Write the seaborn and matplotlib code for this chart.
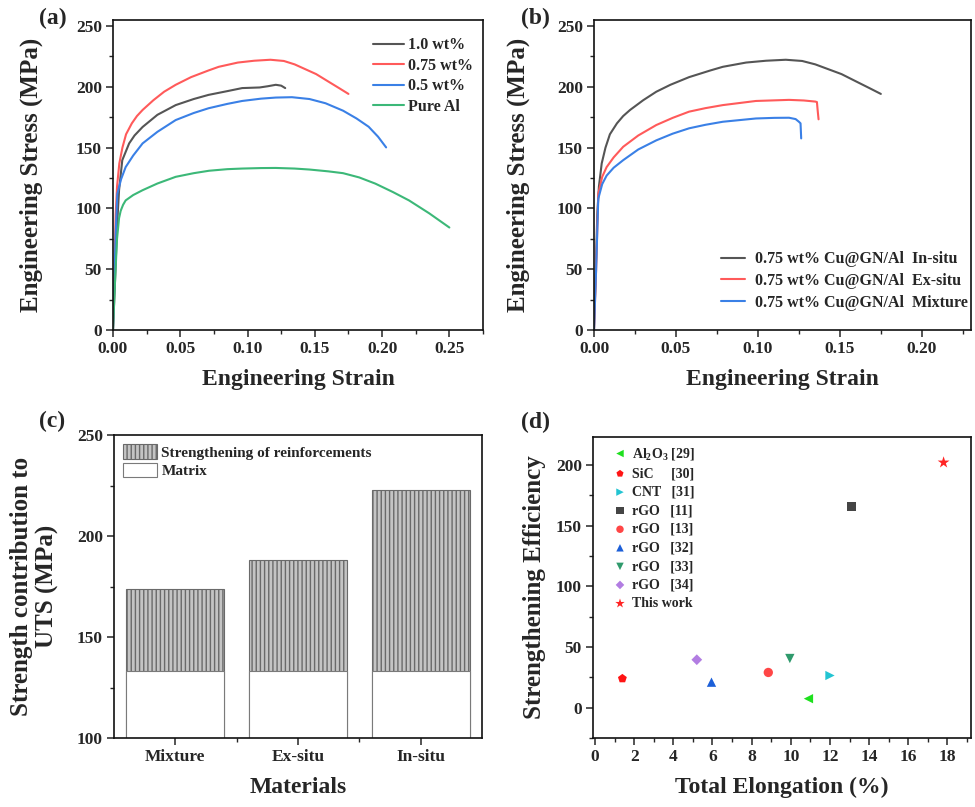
import numpy as np
import pandas as pd
import matplotlib
matplotlib.use("Agg")
import matplotlib.pyplot as plt
import matplotlib.patches as mpatches
from matplotlib.ticker import MultipleLocator
import seaborn as sns

# ---------------- data ----------------
# (a) tensile curves: strain / stress (MPa)
pure_al_strain = [0, 0.0015, 0.003, 0.0045, 0.0057, 0.0075, 0.0094, 0.015, 0.022, 0.033, 0.0466, 0.06, 0.0714,
                  0.085, 0.096, 0.11, 0.121, 0.135, 0.146, 0.16, 0.171, 0.183, 0.195, 0.208, 0.220, 0.235, 0.25]
pure_al_stress = [0, 40, 75, 92, 98, 103, 106.6, 111, 115, 120.5, 126, 129, 131,
                  132.3, 132.8, 133.2, 133.3, 132.8, 132, 130.5, 129, 125.5, 120.4, 113.5, 106.6, 96, 84.3]

wt05_strain = [0, 0.001, 0.002, 0.0032, 0.006, 0.0094, 0.015, 0.022, 0.033, 0.0466, 0.06, 0.071, 0.085, 0.096,
               0.11, 0.121, 0.133, 0.146, 0.158, 0.171, 0.181, 0.19, 0.197, 0.203]
wt05_stress = [0, 40, 80, 112, 124, 134, 143.5, 153.5, 163, 172.7, 178.5, 182.4, 186, 188.4,
               190.3, 191.2, 191.5, 190, 186.5, 180.4, 174, 167.2, 159, 150.2]

wt075_strain = [0, 0.001, 0.002, 0.003, 0.0047, 0.007, 0.0097, 0.014, 0.0178, 0.022, 0.03, 0.038, 0.0466, 0.058,
                0.071, 0.0786, 0.0928, 0.105, 0.117, 0.127, 0.135, 0.143, 0.151, 0.16, 0.168, 0.175]
wt075_stress = [0, 45, 95, 118, 137, 150, 161, 170, 176, 181, 189, 196, 201.7, 208,
                213.5, 216.5, 220, 221.5, 222.3, 221.3, 218.5, 214.5, 210.5, 204.4, 199, 194.2]

wt10_strain = [0, 0.0015, 0.003, 0.0045, 0.0069, 0.012, 0.016, 0.022, 0.033, 0.0466, 0.06, 0.071, 0.085, 0.096,
               0.109, 0.115, 0.121, 0.125, 0.128]
wt10_stress = [0, 40, 85, 115, 139.7, 153.5, 160, 167, 177, 185, 190, 193.4, 196.5, 199,
               199.5, 200.5, 201.7, 201, 199]

# (b) processing routes (In-situ = 0.75 wt% curve above)
exsitu_strain = [0, 0.0013, 0.0026, 0.005, 0.0077, 0.012, 0.0178, 0.027, 0.038, 0.048, 0.058, 0.068, 0.0786,
                 0.0988, 0.119, 0.128, 0.135, 0.136, 0.1365, 0.137]
exsitu_stress = [0, 50, 112, 126, 134, 142, 150.7, 160, 168.6, 174.5, 179.6, 182.5, 185,
                 188.4, 189.3, 188.8, 187.9, 187.5, 180, 173.3]

mixture_strain = [0, 0.0013, 0.0026, 0.005, 0.0077, 0.012, 0.0178, 0.027, 0.038, 0.048, 0.058, 0.068, 0.0786,
                  0.0988, 0.11, 0.119, 0.123, 0.125, 0.126, 0.1262, 0.1264]
mixture_stress = [0, 50, 108, 120, 127, 133.5, 139.7, 148.5, 156, 161.5, 165.9, 168.8, 171.3,
                  174, 174.5, 174.6, 173.5, 171.3, 170, 164, 157.6]

# (c) strength contributions
materials = ["Mixture", "Ex-situ", "In-situ"]
uts_total = [174, 188, 223]
matrix_strength = [133, 133, 133]

# (d) strengthening efficiency vs elongation
ref_labels = ["Al$_2$O$_3$ [29]", "SiC     [30]", "CNT   [31]", "rGO   [11]", "rGO   [13]",
              "rGO   [32]", "rGO   [33]", "rGO   [34]", "This work"]
elongation = [10.9, 1.4, 12.0, 13.1, 8.85, 5.95, 9.95, 5.2, 17.8]
efficiency = [7.4, 24, 26.5, 166, 29, 21, 40.5, 39.5, 202]
ref_markers = ["<", "p", ">", "s", "o", "^", "v", "D", "*"]
ref_colors = ["#1ee01e", "#ff1414", "#22c4d2", "#454545", "#ff4646", "#1c5fd8", "#2f9a6c", "#b27de2", "#ff2424"]
ref_sizes = [45, 45, 45, 40, 45, 45, 45, 30, 80]

# ---------------- style ----------------
sns.set_style("ticks")
plt.rcParams["font.family"] = ["Liberation Serif", "DejaVu Serif"]
plt.rcParams["font.weight"] = "bold"
plt.rcParams["axes.labelweight"] = "bold"
plt.rcParams["mathtext.fontset"] = "custom"
plt.rcParams["mathtext.rm"] = "Liberation Serif:bold"
plt.rcParams["mathtext.it"] = "Liberation Serif:bold"
plt.rcParams["mathtext.bf"] = "Liberation Serif:bold"
plt.rcParams["mathtext.default"] = "rm"
plt.rcParams["axes.linewidth"] = 1.2
plt.rcParams["axes.edgecolor"] = "#111111"
plt.rcParams["hatch.linewidth"] = 1.0
plt.rcParams["hatch.color"] = "#6a6a6a"

W, H = 975, 807
fig = plt.figure(figsize=(W / 100, H / 100), dpi=100)


def add_ax(l, r, t, b):
    return fig.add_axes([l / W, 1 - b / H, (r - l) / W, (b - t) / H])


axa = add_ax(113, 483, 20, 330)
axb = add_ax(594, 971, 20, 330)
axc = add_ax(114, 482, 435, 738)
axd = add_ax(593, 971, 437, 738)

TICK = 12.5
XLAB = 17
YLAB = 18


def style_axis(ax):
    for s in ax.spines.values():
        s.set_visible(True)
        s.set_linewidth(1.2)
    ax.tick_params(axis="both", which="major", direction="out", length=5, width=1.1,
                   labelsize=TICK, top=False, right=False, pad=3)
    ax.tick_params(axis="both", which="minor", direction="out", length=3, width=1.0,
                   top=False, right=False)


# ---- (a) ----
col_gray, col_red, col_blue, col_green = "#555555", "#ff5a5a", "#3a80e6", "#3cb878"
sns.lineplot(x=wt10_strain, y=wt10_stress, sort=False, estimator=None, ax=axa, color=col_gray, lw=1.5, label="1.0 wt%")
sns.lineplot(x=wt075_strain, y=wt075_stress, sort=False, estimator=None, ax=axa, color=col_red, lw=1.5, label="0.75 wt%")
sns.lineplot(x=wt05_strain, y=wt05_stress, sort=False, estimator=None, ax=axa, color=col_blue, lw=1.5, label="0.5 wt%")
sns.lineplot(x=pure_al_strain, y=pure_al_stress, sort=False, estimator=None, ax=axa, color=col_green, lw=1.5, label="Pure Al")
axa.set_xlim(0, 0.275)
axa.set_ylim(0, 255)
axa.xaxis.set_major_locator(MultipleLocator(0.05))
axa.xaxis.set_minor_locator(MultipleLocator(0.025))
axa.yaxis.set_major_locator(MultipleLocator(50))
axa.yaxis.set_minor_locator(MultipleLocator(25))
axa.xaxis.set_major_formatter(matplotlib.ticker.FormatStrFormatter("%.2f"))
style_axis(axa)
axa.set_xlabel("Engineering Strain", fontsize=XLAB)
axa.set_ylabel("Engineering Stress (MPa)", fontsize=YLAB)
axa.xaxis.set_label_coords(0.5, -0.125)
axa.yaxis.set_label_coords(-0.19, 0.5)
axa.legend(loc="upper right", bbox_to_anchor=(0.985, 0.96), frameon=False, fontsize=11.5, handlelength=2.0,
           handletextpad=0.2, labelspacing=0.28, borderaxespad=0.0, borderpad=0.3)

# ---- (b) ----
sns.lineplot(x=wt075_strain, y=wt075_stress, sort=False, estimator=None, ax=axb, color=col_gray, lw=1.5,
             label="0.75 wt% Cu@GN/Al  In-situ")
sns.lineplot(x=exsitu_strain, y=exsitu_stress, sort=False, estimator=None, ax=axb, color=col_red, lw=1.5,
             label="0.75 wt% Cu@GN/Al  Ex-situ")
sns.lineplot(x=mixture_strain, y=mixture_stress, sort=False, estimator=None, ax=axb, color=col_blue, lw=1.5,
             label="0.75 wt% Cu@GN/Al  Mixture")
axb.set_xlim(0, 0.23)
axb.set_ylim(0, 255)
axb.xaxis.set_major_locator(MultipleLocator(0.05))
axb.xaxis.set_minor_locator(MultipleLocator(0.025))
axb.yaxis.set_major_locator(MultipleLocator(50))
axb.yaxis.set_minor_locator(MultipleLocator(25))
axb.xaxis.set_major_formatter(matplotlib.ticker.FormatStrFormatter("%.2f"))
style_axis(axb)
axb.set_xlabel("Engineering Strain", fontsize=XLAB)
axb.set_ylabel("Engineering Stress (MPa)", fontsize=YLAB)
axb.xaxis.set_label_coords(0.5, -0.125)
axb.yaxis.set_label_coords(-0.17, 0.5)
axb.legend(loc="lower right", bbox_to_anchor=(1.0, 0.052), frameon=False, fontsize=11.5, handlelength=1.5,
           handletextpad=0.6, labelspacing=0.36, borderaxespad=0.0, borderpad=0.2)

# ---- (c) ----
sns.barplot(x=materials, y=uts_total, order=materials, color="#c4c4c4", saturation=1, width=0.8, ax=axc)
n_tot = len(axc.patches)
sns.barplot(x=materials, y=matrix_strength, order=materials, color="white", saturation=1, width=0.8, ax=axc)
for i, p in enumerate(axc.patches):
    if i < n_tot:
        p.set_hatch("||||")
        p.set_edgecolor("#6a6a6a")
        p.set_linewidth(0.8)
    else:
        p.set_edgecolor("#7a7a7a")
        p.set_linewidth(0.8)
axc.set_xlim(-0.5, 2.5)
axc.set_ylim(100, 250)
axc.yaxis.set_major_locator(MultipleLocator(50))
axc.yaxis.set_minor_locator(MultipleLocator(25))
axc.xaxis.set_minor_locator(matplotlib.ticker.FixedLocator([0.5, 1.5]))
style_axis(axc)
axc.set_xlabel("Materials", fontsize=XLAB)
axc.set_ylabel("Strength contribution to\nUTS (MPa)", fontsize=YLAB, multialignment="center", linespacing=1.15)
axc.xaxis.set_label_coords(0.5, -0.13)
axc.yaxis.set_label_coords(-0.15, 0.5)
h_str = mpatches.Patch(facecolor="#c4c4c4", edgecolor="#6a6a6a", hatch="||||", lw=0.8,
                       label="Strengthening of reinforcements")
h_mat = mpatches.Patch(facecolor="white", edgecolor="#7a7a7a", lw=0.8, label="Matrix")
axc.legend(handles=[h_str, h_mat], loc="upper left", frameon=False, fontsize=11, handlelength=2.2,
           handleheight=1.1, handletextpad=0.3, labelspacing=0.2, borderaxespad=0.3, borderpad=0.3)

# ---- (d) ----
for lab, xv, yv, m, c, s in zip(ref_labels, elongation, efficiency, ref_markers, ref_colors, ref_sizes):
    sns.scatterplot(x=[xv], y=[yv], marker=m, color=c, s=s, edgecolor="none", label=lab, ax=axd)
axd.set_xlim(-0.1, 19.2)
axd.set_ylim(-25, 223)
axd.xaxis.set_major_locator(MultipleLocator(2))
axd.xaxis.set_minor_locator(MultipleLocator(1))
axd.yaxis.set_major_locator(MultipleLocator(50))
axd.yaxis.set_minor_locator(MultipleLocator(25))
style_axis(axd)
axd.set_xlabel("Total Elongation (%)", fontsize=XLAB)
axd.set_ylabel("Strengthening Efficiency", fontsize=YLAB)
axd.xaxis.set_label_coords(0.5, -0.13)
axd.yaxis.set_label_coords(-0.125, 0.5)
axd.legend(loc="upper left", bbox_to_anchor=(0.042, 0.985), frameon=False, fontsize=10, handlelength=1.0,
           handletextpad=0.4, labelspacing=0.4, borderaxespad=0.0, borderpad=0.3, markerscale=0.8)

# ---- panel letters ----
for txt, px, py in [("(a)", 53, 18), ("(b)", 535, 18), ("(c)", 52, 421), ("(d)", 535, 422)]:
    fig.text(px / W, 1 - py / H, txt, fontsize=17, fontweight="bold", ha="center", va="center")

fig.savefig("out.png", dpi=100)
